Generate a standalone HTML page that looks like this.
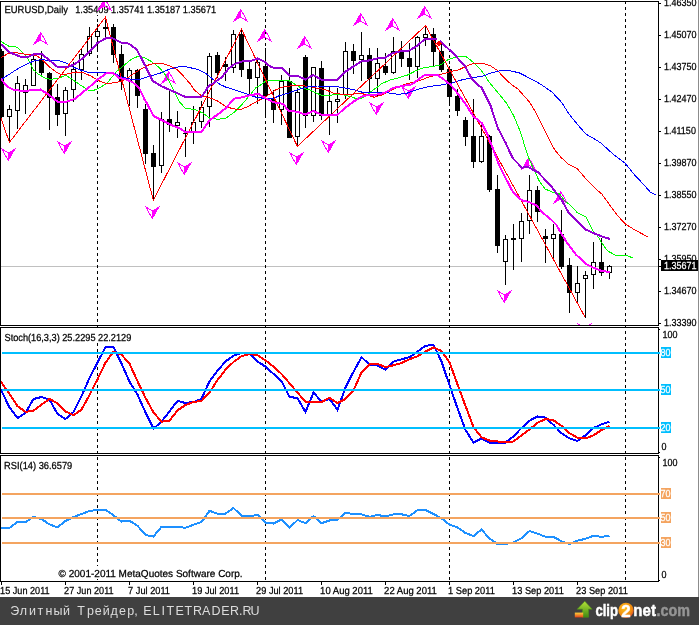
<!DOCTYPE html>
<html><head><meta charset="utf-8"><title>EURUSD Daily</title>
<style>
html,body{margin:0;padding:0;background:#fff;}
body{width:699px;height:625px;position:relative;overflow:hidden;font-family:"Liberation Sans",sans-serif;}
</style></head><body>
<svg width="699" height="625" viewBox="0 0 699 625" shape-rendering="crispEdges" style="position:absolute;left:0;top:0">
<rect x="0" y="0" width="699" height="625" fill="#fff"/>
<defs>
<clipPath id="cm"><rect x="1" y="2" width="657" height="323"/></clipPath>
<clipPath id="cs"><rect x="1" y="328" width="657" height="125"/></clipPath>
<clipPath id="cr"><rect x="1" y="456" width="657" height="125"/></clipPath>
</defs>
<rect x="1" y="266" width="657" height="1" fill="#c0c0c0"/>
<line x1="97.5" y1="1" x2="97.5" y2="581" stroke="#000" stroke-width="1" stroke-dasharray="3,3"/>
<line x1="265.5" y1="1" x2="265.5" y2="581" stroke="#000" stroke-width="1" stroke-dasharray="3,3"/>
<line x1="449.5" y1="1" x2="449.5" y2="581" stroke="#000" stroke-width="1" stroke-dasharray="3,3"/>
<line x1="625.5" y1="1" x2="625.5" y2="581" stroke="#000" stroke-width="1" stroke-dasharray="3,3"/>
<rect x="4" y="2" width="212" height="13" fill="#fff"/>
<rect x="4" y="330" width="127" height="13" fill="#fff"/>
<rect x="58" y="566" width="184" height="13" fill="#fff"/>
<g clip-path="url(#cm)">
<rect x="1" y="49" width="1" height="70" fill="#000"/>
<rect x="-1" y="51" width="5" height="66" fill="#000"/>
<rect x="9" y="105" width="1" height="37" fill="#000"/>
<rect x="7" y="109" width="5" height="8" fill="#000"/>
<rect x="8" y="110" width="3" height="6" fill="#fff"/>
<rect x="17" y="76" width="1" height="53" fill="#000"/>
<rect x="15" y="83" width="5" height="28" fill="#000"/>
<rect x="16" y="84" width="3" height="26" fill="#fff"/>
<rect x="25" y="79" width="1" height="35" fill="#000"/>
<rect x="23" y="85" width="5" height="8" fill="#000"/>
<rect x="24" y="86" width="3" height="6" fill="#fff"/>
<rect x="33" y="56" width="1" height="30" fill="#000"/>
<rect x="31" y="59" width="5" height="27" fill="#000"/>
<rect x="32" y="60" width="3" height="25" fill="#fff"/>
<rect x="41" y="51" width="1" height="25" fill="#000"/>
<rect x="39" y="59" width="5" height="14" fill="#000"/>
<rect x="49" y="72" width="1" height="58" fill="#000"/>
<rect x="47" y="73" width="5" height="25" fill="#000"/>
<rect x="57" y="84" width="1" height="42" fill="#000"/>
<rect x="55" y="97" width="5" height="18" fill="#000"/>
<rect x="65" y="87" width="1" height="49" fill="#000"/>
<rect x="63" y="90" width="5" height="24" fill="#000"/>
<rect x="64" y="91" width="3" height="22" fill="#fff"/>
<rect x="73" y="62" width="1" height="40" fill="#000"/>
<rect x="71" y="69" width="5" height="21" fill="#000"/>
<rect x="72" y="70" width="3" height="19" fill="#fff"/>
<rect x="81" y="49" width="1" height="31" fill="#000"/>
<rect x="79" y="54" width="5" height="16" fill="#000"/>
<rect x="80" y="55" width="3" height="14" fill="#fff"/>
<rect x="89" y="27" width="1" height="29" fill="#000"/>
<rect x="87" y="36" width="5" height="18" fill="#000"/>
<rect x="88" y="37" width="3" height="16" fill="#fff"/>
<rect x="97" y="24" width="1" height="28" fill="#000"/>
<rect x="95" y="31" width="5" height="6" fill="#000"/>
<rect x="96" y="32" width="3" height="4" fill="#fff"/>
<rect x="105" y="17" width="1" height="21" fill="#000"/>
<rect x="103" y="27" width="5" height="2" fill="#000"/>
<rect x="113" y="24" width="1" height="39" fill="#000"/>
<rect x="111" y="27" width="5" height="28" fill="#000"/>
<rect x="121" y="45" width="1" height="45" fill="#000"/>
<rect x="119" y="54" width="5" height="27" fill="#000"/>
<rect x="129" y="68" width="1" height="38" fill="#000"/>
<rect x="127" y="70" width="5" height="11" fill="#000"/>
<rect x="128" y="71" width="3" height="9" fill="#fff"/>
<rect x="137" y="69" width="1" height="39" fill="#000"/>
<rect x="135" y="70" width="5" height="26" fill="#000"/>
<rect x="145" y="104" width="1" height="60" fill="#000"/>
<rect x="143" y="109" width="5" height="45" fill="#000"/>
<rect x="153" y="145" width="1" height="55" fill="#000"/>
<rect x="151" y="153" width="5" height="14" fill="#000"/>
<rect x="161" y="112" width="1" height="61" fill="#000"/>
<rect x="159" y="119" width="5" height="47" fill="#000"/>
<rect x="160" y="120" width="3" height="45" fill="#fff"/>
<rect x="169" y="91" width="1" height="41" fill="#000"/>
<rect x="167" y="119" width="5" height="6" fill="#000"/>
<rect x="177" y="111" width="1" height="27" fill="#000"/>
<rect x="175" y="122" width="5" height="4" fill="#000"/>
<rect x="176" y="123" width="3" height="2" fill="#fff"/>
<rect x="185" y="127" width="1" height="30" fill="#000"/>
<rect x="183" y="133" width="5" height="1" fill="#000"/>
<rect x="193" y="106" width="1" height="38" fill="#000"/>
<rect x="191" y="122" width="5" height="11" fill="#000"/>
<rect x="192" y="123" width="3" height="9" fill="#fff"/>
<rect x="201" y="101" width="1" height="27" fill="#000"/>
<rect x="199" y="107" width="5" height="15" fill="#000"/>
<rect x="200" y="108" width="3" height="13" fill="#fff"/>
<rect x="209" y="53" width="1" height="74" fill="#000"/>
<rect x="207" y="56" width="5" height="51" fill="#000"/>
<rect x="208" y="57" width="3" height="49" fill="#fff"/>
<rect x="217" y="52" width="1" height="26" fill="#000"/>
<rect x="215" y="55" width="5" height="18" fill="#000"/>
<rect x="225" y="57" width="1" height="24" fill="#000"/>
<rect x="223" y="64" width="5" height="3" fill="#000"/>
<rect x="233" y="30" width="1" height="43" fill="#000"/>
<rect x="231" y="34" width="5" height="34" fill="#000"/>
<rect x="232" y="35" width="3" height="32" fill="#fff"/>
<rect x="241" y="29" width="1" height="48" fill="#000"/>
<rect x="239" y="34" width="5" height="36" fill="#000"/>
<rect x="249" y="62" width="1" height="32" fill="#000"/>
<rect x="247" y="69" width="5" height="10" fill="#000"/>
<rect x="257" y="60" width="1" height="44" fill="#000"/>
<rect x="255" y="62" width="5" height="16" fill="#000"/>
<rect x="256" y="63" width="3" height="14" fill="#fff"/>
<rect x="265" y="48" width="1" height="70" fill="#000"/>
<rect x="263" y="66" width="5" height="30" fill="#000"/>
<rect x="273" y="90" width="1" height="33" fill="#000"/>
<rect x="271" y="99" width="5" height="11" fill="#000"/>
<rect x="281" y="75" width="1" height="50" fill="#000"/>
<rect x="279" y="81" width="5" height="29" fill="#000"/>
<rect x="280" y="82" width="3" height="27" fill="#fff"/>
<rect x="289" y="68" width="1" height="70" fill="#000"/>
<rect x="287" y="81" width="5" height="57" fill="#000"/>
<rect x="297" y="88" width="1" height="58" fill="#000"/>
<rect x="295" y="92" width="5" height="45" fill="#000"/>
<rect x="296" y="93" width="3" height="43" fill="#fff"/>
<rect x="305" y="55" width="1" height="73" fill="#000"/>
<rect x="303" y="57" width="5" height="59" fill="#000"/>
<rect x="313" y="67" width="1" height="55" fill="#000"/>
<rect x="311" y="67" width="5" height="49" fill="#000"/>
<rect x="312" y="68" width="3" height="47" fill="#fff"/>
<rect x="321" y="61" width="1" height="59" fill="#000"/>
<rect x="319" y="68" width="5" height="48" fill="#000"/>
<rect x="329" y="86" width="1" height="49" fill="#000"/>
<rect x="327" y="101" width="5" height="15" fill="#000"/>
<rect x="328" y="102" width="3" height="13" fill="#fff"/>
<rect x="337" y="88" width="1" height="35" fill="#000"/>
<rect x="335" y="99" width="5" height="3" fill="#000"/>
<rect x="336" y="100" width="3" height="1" fill="#fff"/>
<rect x="345" y="42" width="1" height="57" fill="#000"/>
<rect x="343" y="51" width="5" height="44" fill="#000"/>
<rect x="344" y="52" width="3" height="42" fill="#fff"/>
<rect x="353" y="44" width="1" height="30" fill="#000"/>
<rect x="351" y="51" width="5" height="10" fill="#000"/>
<rect x="361" y="32" width="1" height="49" fill="#000"/>
<rect x="359" y="55" width="5" height="5" fill="#000"/>
<rect x="360" y="56" width="3" height="3" fill="#fff"/>
<rect x="369" y="48" width="1" height="44" fill="#000"/>
<rect x="367" y="55" width="5" height="24" fill="#000"/>
<rect x="377" y="48" width="1" height="49" fill="#000"/>
<rect x="375" y="63" width="5" height="16" fill="#000"/>
<rect x="376" y="64" width="3" height="14" fill="#fff"/>
<rect x="385" y="53" width="1" height="22" fill="#000"/>
<rect x="383" y="66" width="5" height="7" fill="#000"/>
<rect x="393" y="37" width="1" height="37" fill="#000"/>
<rect x="391" y="51" width="5" height="22" fill="#000"/>
<rect x="392" y="52" width="3" height="20" fill="#fff"/>
<rect x="401" y="41" width="1" height="26" fill="#000"/>
<rect x="399" y="52" width="5" height="7" fill="#000"/>
<rect x="409" y="43" width="1" height="37" fill="#000"/>
<rect x="407" y="58" width="5" height="9" fill="#000"/>
<rect x="417" y="36" width="1" height="42" fill="#000"/>
<rect x="415" y="37" width="5" height="30" fill="#000"/>
<rect x="416" y="38" width="3" height="28" fill="#fff"/>
<rect x="425" y="26" width="1" height="20" fill="#000"/>
<rect x="423" y="34" width="5" height="4" fill="#000"/>
<rect x="424" y="35" width="3" height="2" fill="#fff"/>
<rect x="433" y="28" width="1" height="38" fill="#000"/>
<rect x="431" y="34" width="5" height="18" fill="#000"/>
<rect x="441" y="44" width="1" height="28" fill="#000"/>
<rect x="439" y="51" width="5" height="19" fill="#000"/>
<rect x="449" y="66" width="1" height="40" fill="#000"/>
<rect x="447" y="69" width="5" height="28" fill="#000"/>
<rect x="457" y="89" width="1" height="27" fill="#000"/>
<rect x="455" y="96" width="5" height="15" fill="#000"/>
<rect x="465" y="117" width="1" height="29" fill="#000"/>
<rect x="463" y="120" width="5" height="17" fill="#000"/>
<rect x="473" y="99" width="1" height="69" fill="#000"/>
<rect x="471" y="136" width="5" height="26" fill="#000"/>
<rect x="481" y="125" width="1" height="38" fill="#000"/>
<rect x="479" y="136" width="5" height="26" fill="#000"/>
<rect x="480" y="137" width="3" height="24" fill="#fff"/>
<rect x="489" y="135" width="1" height="57" fill="#000"/>
<rect x="487" y="136" width="5" height="54" fill="#000"/>
<rect x="497" y="175" width="1" height="78" fill="#000"/>
<rect x="495" y="189" width="5" height="57" fill="#000"/>
<rect x="505" y="235" width="1" height="50" fill="#000"/>
<rect x="503" y="239" width="5" height="23" fill="#000"/>
<rect x="504" y="240" width="3" height="21" fill="#fff"/>
<rect x="513" y="224" width="1" height="46" fill="#000"/>
<rect x="511" y="238" width="5" height="2" fill="#000"/>
<rect x="521" y="213" width="1" height="49" fill="#000"/>
<rect x="519" y="221" width="5" height="18" fill="#000"/>
<rect x="520" y="222" width="3" height="16" fill="#fff"/>
<rect x="529" y="175" width="1" height="59" fill="#000"/>
<rect x="527" y="190" width="5" height="31" fill="#000"/>
<rect x="528" y="191" width="3" height="29" fill="#fff"/>
<rect x="537" y="186" width="1" height="36" fill="#000"/>
<rect x="535" y="190" width="5" height="22" fill="#000"/>
<rect x="545" y="229" width="1" height="34" fill="#000"/>
<rect x="543" y="236" width="5" height="3" fill="#000"/>
<rect x="553" y="224" width="1" height="37" fill="#000"/>
<rect x="551" y="234" width="5" height="5" fill="#000"/>
<rect x="552" y="235" width="3" height="3" fill="#fff"/>
<rect x="561" y="210" width="1" height="59" fill="#000"/>
<rect x="559" y="234" width="5" height="33" fill="#000"/>
<rect x="569" y="258" width="1" height="55" fill="#000"/>
<rect x="567" y="265" width="5" height="28" fill="#000"/>
<rect x="577" y="266" width="1" height="36" fill="#000"/>
<rect x="575" y="283" width="5" height="10" fill="#000"/>
<rect x="576" y="284" width="3" height="8" fill="#fff"/>
<rect x="585" y="271" width="1" height="47" fill="#000"/>
<rect x="583" y="275" width="5" height="4" fill="#000"/>
<rect x="584" y="276" width="3" height="2" fill="#fff"/>
<rect x="593" y="242" width="1" height="47" fill="#000"/>
<rect x="591" y="262" width="5" height="13" fill="#000"/>
<rect x="592" y="263" width="3" height="11" fill="#fff"/>
<rect x="601" y="238" width="1" height="38" fill="#000"/>
<rect x="599" y="262" width="5" height="11" fill="#000"/>
<rect x="609" y="265" width="1" height="14" fill="#000"/>
<rect x="607" y="266" width="5" height="7" fill="#000"/>
<rect x="608" y="267" width="3" height="5" fill="#fff"/>
<path d="M40.5 32 L33.0 45 L41.0 40.5 Z" fill="#ff00ff"/><path d="M40.5 32 L47.1 43.9 L41.0 40.5" fill="none" stroke="#ff00ff" stroke-width="1"/>
<path d="M104.5 -2 L97.0 11 L105.0 6.5 Z" fill="#ff00ff"/><path d="M104.5 -2 L111.1 9.9 L105.0 6.5" fill="none" stroke="#ff00ff" stroke-width="1"/>
<path d="M168.5 71 L161.0 84 L169.0 79.5 Z" fill="#ff00ff"/><path d="M168.5 71 L175.1 82.9 L169.0 79.5" fill="none" stroke="#ff00ff" stroke-width="1"/>
<path d="M240.5 9 L233.0 22 L241.0 17.5 Z" fill="#ff00ff"/><path d="M240.5 9 L247.1 20.9 L241.0 17.5" fill="none" stroke="#ff00ff" stroke-width="1"/>
<path d="M264.5 29 L257.0 42 L265.0 37.5 Z" fill="#ff00ff"/><path d="M264.5 29 L271.1 40.9 L265.0 37.5" fill="none" stroke="#ff00ff" stroke-width="1"/>
<path d="M304.5 36 L297.0 49 L305.0 44.5 Z" fill="#ff00ff"/><path d="M304.5 36 L311.1 47.9 L305.0 44.5" fill="none" stroke="#ff00ff" stroke-width="1"/>
<path d="M360.5 13 L353.0 26 L361.0 21.5 Z" fill="#ff00ff"/><path d="M360.5 13 L367.1 24.9 L361.0 21.5" fill="none" stroke="#ff00ff" stroke-width="1"/>
<path d="M392.5 18 L385.0 31 L393.0 26.5 Z" fill="#ff00ff"/><path d="M392.5 18 L399.1 29.9 L393.0 26.5" fill="none" stroke="#ff00ff" stroke-width="1"/>
<path d="M424.5 6 L417.0 19 L425.0 14.5 Z" fill="#ff00ff"/><path d="M424.5 6 L431.1 17.9 L425.0 14.5" fill="none" stroke="#ff00ff" stroke-width="1"/>
<path d="M528.5 157 L521.0 170 L529.0 165.5 Z" fill="#ff00ff"/><path d="M528.5 157 L535.1 168.9 L529.0 165.5" fill="none" stroke="#ff00ff" stroke-width="1"/>
<path d="M560.5 191 L553.0 204 L561.0 199.5 Z" fill="#ff00ff"/><path d="M560.5 191 L567.1 202.9 L561.0 199.5" fill="none" stroke="#ff00ff" stroke-width="1"/>
<path d="M8.5 161 L16.0 148 L8.0 152.5 Z" fill="#ff00ff"/><path d="M8.5 161 L1.9 149.1 L8.0 152.5" fill="none" stroke="#ff00ff" stroke-width="1"/>
<path d="M64.5 154 L72.0 141 L64.0 145.5 Z" fill="#ff00ff"/><path d="M64.5 154 L57.9 142.1 L64.0 145.5" fill="none" stroke="#ff00ff" stroke-width="1"/>
<path d="M152.5 219 L160.0 206 L152.0 210.5 Z" fill="#ff00ff"/><path d="M152.5 219 L145.9 207.1 L152.0 210.5" fill="none" stroke="#ff00ff" stroke-width="1"/>
<path d="M184.5 175 L192.0 162 L184.0 166.5 Z" fill="#ff00ff"/><path d="M184.5 175 L177.9 163.1 L184.0 166.5" fill="none" stroke="#ff00ff" stroke-width="1"/>
<path d="M296.5 165 L304.0 152 L296.0 156.5 Z" fill="#ff00ff"/><path d="M296.5 165 L289.9 153.1 L296.0 156.5" fill="none" stroke="#ff00ff" stroke-width="1"/>
<path d="M328.5 153 L336.0 140 L328.0 144.5 Z" fill="#ff00ff"/><path d="M328.5 153 L321.9 141.1 L328.0 144.5" fill="none" stroke="#ff00ff" stroke-width="1"/>
<path d="M376.5 115 L384.0 102 L376.0 106.5 Z" fill="#ff00ff"/><path d="M376.5 115 L369.9 103.1 L376.0 106.5" fill="none" stroke="#ff00ff" stroke-width="1"/>
<path d="M408.5 99 L416.0 86 L408.0 90.5 Z" fill="#ff00ff"/><path d="M408.5 99 L401.9 87.1 L408.0 90.5" fill="none" stroke="#ff00ff" stroke-width="1"/>
<path d="M504.5 303 L512.0 290 L504.0 294.5 Z" fill="#ff00ff"/><path d="M504.5 303 L497.9 291.1 L504.0 294.5" fill="none" stroke="#ff00ff" stroke-width="1"/>
<path d="M584.5 336 L592.0 323 L584.0 327.5 Z" fill="#ff00ff"/><path d="M584.5 336 L577.9 324.1 L584.0 327.5" fill="none" stroke="#ff00ff" stroke-width="1"/>
<polyline points="1.0,41.5 9.0,46.3 13.8,46.5 17.6,47.3 25.6,55.6 27.5,58.2 30.0,63.3 33.3,69.7 38.9,74.6 46.0,78.5 50.6,79.4 59.2,78.0 65.5,75.3 71.7,78.9 80.3,85.1 89.0,90.4 94.0,90.2 100.0,87.5 107.3,82.9 116.0,72.0 124.6,64.8 131.8,59.0 138.3,56.2 143.3,57.3 150.0,60.7 154.8,64.0 160.0,68.4 165.0,74.5 169.3,81.5 175.0,93.0 179.3,101.6 185.0,108.0 194.4,109.5 203.0,113.0 210.3,118.6 219.0,119.2 226.0,118.2 234.8,111.7 242.0,104.5 249.2,95.9 256.4,87.2 260.7,85.0 266.5,80.5 280.0,80.3 288.7,80.5 294.5,84.0 301.0,88.0 309.0,89.6 316.0,93.0 323.3,95.9 332.0,95.0 342.0,94.4 350.7,96.6 356.5,98.7 362.2,98.0 368.6,93.7 373.0,90.0 377.3,87.2 381.6,83.6 390.3,80.0 399.0,77.8 407.5,75.0 416.2,70.6 423.4,67.7 432.0,66.6 440.7,64.8 447.9,59.8 455.0,57.3 460.0,56.5 465.9,56.5 473.8,62.7 480.3,69.2 484.6,75.0 489.0,82.0 497.6,92.2 506.3,103.0 513.5,115.3 520.7,132.6 526.5,152.0 529.0,158.6 533.4,168.7 539.2,181.0 545.0,189.0 553.6,192.5 559.3,193.5 565.0,201.0 570.0,204.8 577.3,212.7 586.0,217.0 588.8,222.8 593.0,231.0 597.5,235.8 601.8,243.0 607.6,250.9 616.2,255.6 626.3,255.2 632.8,258.0" fill="none" stroke="#00ff00" stroke-width="1" />
<polyline points="1.0,57.6 7.2,54.0 15.9,52.6 23.8,54.0 31.0,54.8 37.5,56.2 43.2,60.5 49.0,66.6 56.2,72.0 62.0,75.0 69.2,73.5 76.4,72.0 83.6,72.8 90.8,76.0 98.6,80.7 105.9,83.3 114.5,82.9 123.0,80.7 131.8,75.0 140.4,69.2 149.0,64.8 154.8,63.4 162.0,63.4 169.3,65.6 176.5,69.2 183.7,76.4 190.0,83.6 194.4,90.0 201.6,95.9 210.3,98.0 217.5,100.9 226.0,106.7 233.3,108.8 240.5,109.5 247.7,106.7 256.4,101.6 263.6,98.0 272.2,92.5 275.8,89.7 284.4,86.5 294.5,85.6 307.5,86.1 316.0,88.0 324.8,89.5 333.4,93.0 342.0,94.4 350.7,94.4 359.3,93.3 365.8,94.4 374.4,97.3 381.6,95.0 388.8,91.5 397.5,87.0 407.5,83.6 420.5,80.3 429.0,77.0 437.8,75.0 446.5,72.8 451.4,71.3 458.6,69.9 465.9,66.3 473.8,63.4 483.0,63.4 490.3,65.6 497.6,70.6 504.8,78.5 512.0,85.0 517.8,88.9 529.3,101.8 535.0,111.0 540.0,121.0 548.7,138.5 554.5,149.5 560.8,157.2 568.6,164.5 577.3,168.8 586.0,178.9 596.0,189.0 601.8,194.0 609.0,204.0 617.6,215.6 625.6,224.3 635.0,230.0 643.6,234.6 648.6,237.2" fill="none" stroke="#ff0000" stroke-width="1" />
<polyline points="0.0,80.5 2.9,78.5 10.0,73.8 17.3,69.1 28.2,63.3 34.6,60.8 40.0,59.9 43.2,59.9 51.9,60.5 59.2,60.7 66.0,63.0 72.7,66.9 81.3,70.3 88.0,72.2 98.6,72.7 107.3,72.3 114.5,73.5 121.7,77.0 130.3,79.0 139.0,79.5 144.2,78.0 151.9,75.6 160.0,73.2 169.3,69.3 176.5,67.2 183.0,66.3 188.6,67.4 197.3,69.2 206.0,73.5 213.0,79.3 220.3,84.5 226.0,87.2 237.6,90.8 247.7,94.4 256.4,97.3 266.5,98.7 273.7,98.4 278.6,95.9 288.7,93.0 297.4,89.8 307.5,87.0 317.6,86.0 333.4,86.0 345.0,88.0 355.0,90.0 362.2,92.2 370.0,93.0 378.7,92.7 388.8,93.0 399.0,94.4 407.5,93.0 417.6,89.4 429.0,86.5 440.7,85.0 452.2,82.9 461.5,80.0 471.6,77.8 481.7,76.4 491.8,72.8 500.4,70.6 509.0,70.6 519.2,72.8 529.3,78.0 540.0,83.8 551.6,91.7 561.7,102.5 569.0,114.0 579.0,126.3 586.2,134.2 596.3,140.0 600.6,142.9 607.8,149.3 613.3,154.4 624.8,163.0 635.0,175.3 645.0,186.0 650.0,191.8 656.5,195.4" fill="none" stroke="#0000ff" stroke-width="1" />
<polyline points="0.0,115.0 1.4,119.2 9.4,142.4 105.4,17.2 153.3,200.2 241.5,29.2 297.4,146.4 425.5,25.6 585.3,317.6" fill="none" stroke="#ff0000" stroke-width="1" />
<polyline points="0.0,44.0 1.6,45.0 9.6,52.4 21.8,57.2 27.5,57.2 34.6,54.0 41.8,54.0 57.6,67.0 67.7,67.0 75.0,64.0 83.6,57.6 92.2,49.0 97.2,43.2 105.9,38.2 111.6,37.9 121.0,42.5 128.9,43.7 136.8,49.7 144.8,64.8 152.7,81.0 162.0,86.5 173.6,91.5 185.0,96.8 201.6,97.0 209.0,85.5 213.0,83.5 221.8,77.2 229.0,68.2 234.8,64.0 242.0,61.5 250.6,61.0 257.8,58.4 263.6,61.2 270.8,67.0 274.3,67.7 282.2,67.7 289.5,75.6 297.4,75.6 305.3,79.5 313.2,75.0 321.2,79.5 337.7,79.5 345.0,72.0 353.6,66.3 361.5,61.2 368.6,60.5 377.3,58.4 385.2,57.6 393.0,53.0 401.8,51.2 409.7,50.4 417.6,45.4 424.8,39.2 437.0,39.0" fill="none" stroke="#9400d3" stroke-width="2" />
<polyline points="440.0,41.0 449.3,49.7 457.2,57.6 465.0,66.3 471.6,78.5 477.4,84.3 481.8,88.0 490.4,105.2 497.6,127.6 505.4,142.5 512.6,158.0 521.9,167.6 528.4,167.2 538.0,172.3 544.0,178.6 550.0,184.8 555.0,191.2 561.8,200.2 568.5,212.5 575.2,219.4 585.5,229.4 594.6,233.6 601.8,236.5 609.7,238.9" fill="none" stroke="#9400d3" stroke-width="2" />
<polyline points="0.0,78.0 1.4,79.5 7.2,86.7 13.0,89.5 21.6,91.0 28.8,90.5 40.3,89.5 47.6,93.9 57.6,101.8 66.3,101.8 75.0,98.8 81.3,93.6 90.0,86.5 98.0,79.3 106.5,73.2 113.5,73.2 119.2,78.0 126.0,79.4 132.7,82.3 138.5,87.1 141.3,92.4 144.2,98.7 147.6,104.5 153.4,116.0 162.0,120.3 170.7,124.7 179.3,128.2 185.8,132.2 201.6,131.9 209.5,120.3 217.5,114.6 226.0,108.0 234.0,98.7 242.0,97.3 250.6,95.0 258.5,94.0 266.5,98.7 273.7,102.3 283.0,103.8 288.7,111.0 297.4,111.7 305.3,114.6 313.2,111.0 321.2,114.6 337.7,114.6 345.0,108.0 353.6,101.6 361.5,96.6 368.6,95.0 378.7,94.4 386.0,92.2 393.0,88.0 403.0,85.8 412.0,84.3 417.6,80.0 424.8,75.0 437.8,75.0 443.6,79.3 450.8,85.0 457.3,93.0 466.0,104.5 473.0,116.0 481.8,123.2 487.6,134.8 492.0,146.3 498.8,164.4 506.0,178.8 513.2,192.5 521.9,200.4 529.0,201.9 536.3,205.5 543.5,213.4 550.7,219.2 556.5,225.0 562.2,235.0 567.2,243.0 575.9,254.5 586.0,263.9 594.6,268.2 601.8,271.0 609.7,272.0" fill="none" stroke="#ff00ff" stroke-width="2" />
<path d="M439 40 L440 42 L442 43.5 L440 45 L439 47 L438 45 L436 43.5 L438 42 Z" fill="#ff0000"/><rect x="437" y="42" width="4" height="3" fill="#ff0000"/>
</g>
<g clip-path="url(#cs)">
<polyline points="0.0,388.5 1.5,391.0 9.5,407.4 17.5,418.0 25.5,413.0 33.5,399.0 41.5,397.0 49.5,399.5 57.5,414.0 65.5,419.0 73.5,412.0 81.5,396.0 89.5,378.0 97.5,362.6 105.5,347.0 113.5,347.0 121.5,363.7 129.5,381.6 137.5,394.7 145.5,412.4 153.5,428.6 161.5,421.7 169.5,411.3 177.5,400.9 185.5,403.0 193.5,402.0 201.5,398.9 209.5,381.2 217.5,370.8 225.5,361.4 233.5,355.8 241.5,353.0 249.5,354.0 257.5,361.4 265.5,366.6 273.5,373.9 281.5,381.2 289.5,396.8 297.5,398.2 305.5,412.0 313.5,392.6 321.5,401.6 329.5,398.9 337.5,409.9 345.5,387.4 353.5,371.8 361.5,357.2 369.5,364.5 377.5,365.6 385.5,369.7 393.5,361.6 401.5,359.3 409.5,357.2 417.5,351.6 425.5,345.8 433.5,344.8 441.5,361.4 449.5,385.3 457.5,408.2 465.5,430.0 473.5,442.5 481.5,438.4 489.5,442.5 497.5,442.5 505.5,442.5 513.5,436.3 521.5,428.0 529.5,420.7 537.5,416.5 545.5,417.6 553.5,424.9 561.5,433.2 569.5,438.4 577.5,441.0 585.5,435.3 593.5,428.0 601.5,424.4 609.5,421.7" fill="none" stroke="#0000ff" stroke-width="2" />
<polyline points="0.0,381.0 1.5,382.7 9.5,393.9 17.5,406.2 25.5,411.8 33.5,410.7 41.5,404.7 49.5,398.9 57.5,403.3 65.5,411.4 73.5,415.2 81.5,409.6 89.5,395.0 97.5,379.4 105.5,362.6 113.5,351.8 121.5,354.7 129.5,363.7 137.5,381.2 145.5,397.8 153.5,412.4 161.5,421.7 169.5,420.7 177.5,410.3 185.5,405.0 193.5,402.0 201.5,401.0 209.5,392.6 217.5,380.1 225.5,369.7 233.5,362.0 241.5,356.2 249.5,354.0 257.5,355.2 265.5,360.4 273.5,366.6 281.5,373.9 289.5,383.2 297.5,392.6 305.5,402.0 313.5,402.0 321.5,402.0 329.5,397.8 337.5,403.0 345.5,398.9 353.5,390.5 361.5,372.4 369.5,364.5 377.5,363.9 385.5,367.0 393.5,365.3 401.5,363.0 409.5,359.3 417.5,356.2 425.5,351.6 433.5,347.5 441.5,351.0 449.5,362.4 457.5,384.3 465.5,406.0 473.5,427.0 481.5,437.3 489.5,440.5 497.5,441.5 505.5,441.9 513.5,441.5 521.5,435.3 529.5,429.5 537.5,422.8 545.5,419.0 553.5,420.3 561.5,425.9 569.5,433.2 577.5,437.8 585.5,438.4 593.5,435.3 601.5,430.0 609.5,425.9" fill="none" stroke="#ff0000" stroke-width="2" />
</g>
<g clip-path="url(#cr)">
<polyline points="0.0,528.0 1.5,528.0 9.5,528.0 17.5,522.0 25.5,522.0 33.5,517.0 41.5,519.0 49.5,524.4 57.5,527.3 65.5,521.0 73.5,517.0 81.5,514.0 89.5,511.0 97.5,510.0 105.5,509.6 113.5,515.3 121.5,521.6 129.5,520.8 137.5,525.7 145.5,535.0 153.5,536.5 161.5,526.8 169.5,526.8 177.5,526.8 185.5,527.8 193.5,524.7 201.5,522.0 209.5,510.8 217.5,513.7 225.5,513.7 233.5,508.0 241.5,515.7 249.5,516.4 257.5,514.9 265.5,522.6 273.5,523.6 281.5,519.5 289.5,527.8 297.5,520.0 305.5,523.2 313.5,516.0 321.5,523.2 329.5,520.5 337.5,520.0 345.5,512.6 353.5,514.3 361.5,514.3 369.5,516.8 377.5,515.0 385.5,516.4 393.5,514.3 401.5,514.3 409.5,516.0 417.5,510.1 425.5,510.1 433.5,513.9 441.5,518.4 449.5,524.7 457.5,527.4 465.5,533.0 473.5,536.1 481.5,529.5 489.5,538.6 497.5,544.0 505.5,544.0 513.5,542.4 521.5,538.2 529.5,531.0 537.5,533.6 545.5,536.8 553.5,536.8 561.5,541.3 569.5,544.0 577.5,540.7 585.5,538.8 593.5,535.7 601.5,536.8 609.5,535.7" fill="none" stroke="#1e90ff" stroke-width="2" />
</g>
<rect x="0" y="1" width="659" height="1" fill="#000"/>
<rect x="0" y="325" width="659" height="1" fill="#000"/>
<rect x="0" y="1" width="1" height="325" fill="#000"/>
<rect x="658" y="1" width="1" height="325" fill="#000"/>
<rect x="0" y="327" width="659" height="1" fill="#000"/>
<rect x="0" y="453" width="659" height="1" fill="#000"/>
<rect x="0" y="327" width="1" height="127" fill="#000"/>
<rect x="658" y="327" width="1" height="127" fill="#000"/>
<rect x="0" y="455" width="659" height="1" fill="#000"/>
<rect x="0" y="581" width="659" height="1" fill="#000"/>
<rect x="0" y="455" width="1" height="127" fill="#000"/>
<rect x="658" y="455" width="1" height="127" fill="#000"/>
<rect x="2" y="352" width="658" height="2" fill="#00bfff"/>
<rect x="2" y="389" width="658" height="2" fill="#00bfff"/>
<rect x="2" y="427" width="658" height="2" fill="#00bfff"/>
<rect x="2" y="493" width="658" height="2" fill="#f4a460"/>
<rect x="2" y="517" width="658" height="2" fill="#f4a460"/>
<rect x="2" y="542" width="658" height="2" fill="#f4a460"/>
<rect x="659" y="3" width="2" height="1" fill="#000"/>
<rect x="659" y="35" width="2" height="1" fill="#000"/>
<rect x="659" y="67" width="2" height="1" fill="#000"/>
<rect x="659" y="99" width="2" height="1" fill="#000"/>
<rect x="659" y="131" width="2" height="1" fill="#000"/>
<rect x="659" y="163" width="2" height="1" fill="#000"/>
<rect x="659" y="195" width="2" height="1" fill="#000"/>
<rect x="659" y="227" width="2" height="1" fill="#000"/>
<rect x="659" y="259" width="2" height="1" fill="#000"/>
<rect x="659" y="291" width="2" height="1" fill="#000"/>
<rect x="659" y="323" width="2" height="1" fill="#000"/>
<rect x="659" y="329" width="1" height="1" fill="#000"/>
<rect x="659" y="452" width="1" height="1" fill="#000"/>
<rect x="659" y="457" width="1" height="1" fill="#000"/>
<rect x="659" y="580" width="1" height="1" fill="#000"/>
<rect x="1" y="582" width="1" height="3" fill="#000"/>
<rect x="65" y="582" width="1" height="3" fill="#000"/>
<rect x="129" y="582" width="1" height="3" fill="#000"/>
<rect x="193" y="582" width="1" height="3" fill="#000"/>
<rect x="257" y="582" width="1" height="3" fill="#000"/>
<rect x="321" y="582" width="1" height="3" fill="#000"/>
<rect x="385" y="582" width="1" height="3" fill="#000"/>
<rect x="449" y="582" width="1" height="3" fill="#000"/>
<rect x="513" y="582" width="1" height="3" fill="#000"/>
<rect x="577" y="582" width="1" height="3" fill="#000"/>
<rect x="698" y="0" width="1" height="597" fill="#8c8c8c"/>
<rect x="661" y="260" width="37" height="11" fill="#000"/>
<rect x="659" y="266" width="2" height="1" fill="#000"/>
<rect x="661" y="347" width="10" height="11" fill="#00bfff"/>
<rect x="661" y="384" width="10" height="11" fill="#00bfff"/>
<rect x="661" y="422" width="10" height="11" fill="#00bfff"/>
<rect x="661" y="488" width="10" height="11" fill="#f4a460"/>
<rect x="661" y="512" width="10" height="11" fill="#f4a460"/>
<rect x="661" y="537" width="10" height="11" fill="#f4a460"/>
<rect x="0" y="597" width="699" height="28" fill="#404040"/>
</svg>

<svg width="130" height="28" viewBox="0 0 130 28" style="position:absolute;left:569px;top:597px">
<defs>
<linearGradient id="ga" x1="0" y1="0" x2="0" y2="1"><stop offset="0" stop-color="#b6e23a"/><stop offset="1" stop-color="#3f8a12"/></linearGradient>
<linearGradient id="gb" x1="0" y1="0" x2="0" y2="1"><stop offset="0" stop-color="#ffd23a"/><stop offset="1" stop-color="#e0401a"/></linearGradient>
<radialGradient id="gc" cx="0.4" cy="0.35" r="0.7"><stop offset="0" stop-color="#ffc21a"/><stop offset="0.7" stop-color="#f08a10"/><stop offset="1" stop-color="#d8452a"/></radialGradient>
</defs>
<path d="M15.8 4.2 L23.2 12.2 L19.6 12.2 L19.6 20.2 L13.4 20.2 L13.4 12.2 L8.2 12.2 Z" fill="url(#ga)" stroke="#4d8f1a" stroke-width="0.6"/>
<rect x="5.8" y="15.6" width="8.4" height="4.8" fill="url(#gb)"/>
<circle cx="57" cy="13.4" r="7.7" fill="url(#gc)"/>
</svg>
<svg width="699" height="625" viewBox="0 0 699 625" style="position:absolute;left:0;top:0;filter:grayscale(1)" font-family="Liberation Sans, sans-serif">
<text x="4.5" y="13.0" font-size="10.2" fill="#000" stroke="#000" stroke-width="0.25" text-rendering="geometricPrecision" textLength="63.5" lengthAdjust="spacingAndGlyphs" xml:space="preserve">EURUSD,Daily</text>
<text x="75.2" y="13.0" font-size="10.2" fill="#000" stroke="#000" stroke-width="0.25" text-rendering="geometricPrecision" textLength="141.0" lengthAdjust="spacingAndGlyphs" xml:space="preserve">1.35409 1.35741 1.35187 1.35671</text>
<text x="4.5" y="341.0" font-size="10.2" fill="#000" stroke="#000" stroke-width="0.25" text-rendering="geometricPrecision" textLength="126.8" lengthAdjust="spacingAndGlyphs" xml:space="preserve">Stoch(16,3,3) 25.2295 22.2129</text>
<text x="4.1" y="469.0" font-size="10.2" fill="#000" stroke="#000" stroke-width="0.25" text-rendering="geometricPrecision" textLength="68.2" lengthAdjust="spacingAndGlyphs" xml:space="preserve">RSI(14) 36.6579</text>
<text x="58.6" y="577.0" font-size="10.2" fill="#000" stroke="#000" stroke-width="0.25" text-rendering="geometricPrecision" textLength="184.0" lengthAdjust="spacingAndGlyphs" xml:space="preserve">© 2001-2011 MetaQuotes Software Corp.</text>
<text x="664.0" y="6.0" font-size="10.2" fill="#000" stroke="#000" stroke-width="0.25" text-rendering="geometricPrecision" textLength="32.5" lengthAdjust="spacingAndGlyphs" xml:space="preserve">1.46350</text>
<text x="664.0" y="38.0" font-size="10.2" fill="#000" stroke="#000" stroke-width="0.25" text-rendering="geometricPrecision" textLength="32.5" lengthAdjust="spacingAndGlyphs" xml:space="preserve">1.45070</text>
<text x="664.0" y="70.0" font-size="10.2" fill="#000" stroke="#000" stroke-width="0.25" text-rendering="geometricPrecision" textLength="32.5" lengthAdjust="spacingAndGlyphs" xml:space="preserve">1.43750</text>
<text x="664.0" y="102.0" font-size="10.2" fill="#000" stroke="#000" stroke-width="0.25" text-rendering="geometricPrecision" textLength="32.5" lengthAdjust="spacingAndGlyphs" xml:space="preserve">1.42470</text>
<text x="664.0" y="134.0" font-size="10.2" fill="#000" stroke="#000" stroke-width="0.25" text-rendering="geometricPrecision" textLength="31.9" lengthAdjust="spacingAndGlyphs" xml:space="preserve">1.41150</text>
<text x="664.0" y="166.0" font-size="10.2" fill="#000" stroke="#000" stroke-width="0.25" text-rendering="geometricPrecision" textLength="32.5" lengthAdjust="spacingAndGlyphs" xml:space="preserve">1.39870</text>
<text x="664.0" y="198.0" font-size="10.2" fill="#000" stroke="#000" stroke-width="0.25" text-rendering="geometricPrecision" textLength="32.5" lengthAdjust="spacingAndGlyphs" xml:space="preserve">1.38550</text>
<text x="664.0" y="230.0" font-size="10.2" fill="#000" stroke="#000" stroke-width="0.25" text-rendering="geometricPrecision" textLength="32.5" lengthAdjust="spacingAndGlyphs" xml:space="preserve">1.37270</text>
<text x="664.0" y="262.0" font-size="10.2" fill="#000" stroke="#000" stroke-width="0.25" text-rendering="geometricPrecision" textLength="32.5" lengthAdjust="spacingAndGlyphs" xml:space="preserve">1.35950</text>
<text x="664.0" y="294.0" font-size="10.2" fill="#000" stroke="#000" stroke-width="0.25" text-rendering="geometricPrecision" textLength="32.5" lengthAdjust="spacingAndGlyphs" xml:space="preserve">1.34670</text>
<text x="664.0" y="326.0" font-size="10.2" fill="#000" stroke="#000" stroke-width="0.25" text-rendering="geometricPrecision" textLength="32.5" lengthAdjust="spacingAndGlyphs" xml:space="preserve">1.33390</text>
<text x="664.0" y="269.0" font-size="10.2" fill="#fff" stroke="#fff" stroke-width="0.25" text-rendering="geometricPrecision" textLength="32.5" lengthAdjust="spacingAndGlyphs" xml:space="preserve">1.35671</text>
<text x="662.5" y="338.0" font-size="10.2" fill="#000" stroke="#000" stroke-width="0.25" text-rendering="geometricPrecision" textLength="15.0" lengthAdjust="spacingAndGlyphs" xml:space="preserve">100</text>
<text x="661.5" y="450.0" font-size="10.2" fill="#000" stroke="#000" stroke-width="0.25" text-rendering="geometricPrecision" textLength="5.0" lengthAdjust="spacingAndGlyphs" xml:space="preserve">0</text>
<text x="660.6" y="356.0" font-size="10.2" fill="#fff" stroke="#fff" stroke-width="0.25" text-rendering="geometricPrecision" textLength="10.0" lengthAdjust="spacingAndGlyphs" xml:space="preserve">80</text>
<text x="660.6" y="393.0" font-size="10.2" fill="#fff" stroke="#fff" stroke-width="0.25" text-rendering="geometricPrecision" textLength="10.0" lengthAdjust="spacingAndGlyphs" xml:space="preserve">50</text>
<text x="660.6" y="431.0" font-size="10.2" fill="#fff" stroke="#fff" stroke-width="0.25" text-rendering="geometricPrecision" textLength="10.0" lengthAdjust="spacingAndGlyphs" xml:space="preserve">20</text>
<text x="662.5" y="466.0" font-size="10.2" fill="#000" stroke="#000" stroke-width="0.25" text-rendering="geometricPrecision" textLength="15.0" lengthAdjust="spacingAndGlyphs" xml:space="preserve">100</text>
<text x="661.5" y="578.0" font-size="10.2" fill="#000" stroke="#000" stroke-width="0.25" text-rendering="geometricPrecision" textLength="5.0" lengthAdjust="spacingAndGlyphs" xml:space="preserve">0</text>
<text x="660.6" y="497.0" font-size="10.2" fill="#fff" stroke="#fff" stroke-width="0.25" text-rendering="geometricPrecision" textLength="10.0" lengthAdjust="spacingAndGlyphs" xml:space="preserve">70</text>
<text x="660.6" y="521.0" font-size="10.2" fill="#fff" stroke="#fff" stroke-width="0.25" text-rendering="geometricPrecision" textLength="10.0" lengthAdjust="spacingAndGlyphs" xml:space="preserve">50</text>
<text x="660.6" y="546.0" font-size="10.2" fill="#fff" stroke="#fff" stroke-width="0.25" text-rendering="geometricPrecision" textLength="10.0" lengthAdjust="spacingAndGlyphs" xml:space="preserve">30</text>
<text x="0.1" y="594.0" font-size="10.2" fill="#000" stroke="#000" stroke-width="0.25" text-rendering="geometricPrecision" textLength="49.5" lengthAdjust="spacingAndGlyphs" xml:space="preserve">15 Jun 2011</text>
<text x="64.1" y="594.0" font-size="10.2" fill="#000" stroke="#000" stroke-width="0.25" text-rendering="geometricPrecision" textLength="49.5" lengthAdjust="spacingAndGlyphs" xml:space="preserve">27 Jun 2011</text>
<text x="128.1" y="594.0" font-size="10.2" fill="#000" stroke="#000" stroke-width="0.25" text-rendering="geometricPrecision" textLength="41.9" lengthAdjust="spacingAndGlyphs" xml:space="preserve">7 Jul 2011</text>
<text x="192.1" y="594.0" font-size="10.2" fill="#000" stroke="#000" stroke-width="0.25" text-rendering="geometricPrecision" textLength="46.9" lengthAdjust="spacingAndGlyphs" xml:space="preserve">19 Jul 2011</text>
<text x="256.1" y="594.0" font-size="10.2" fill="#000" stroke="#000" stroke-width="0.25" text-rendering="geometricPrecision" textLength="46.9" lengthAdjust="spacingAndGlyphs" xml:space="preserve">29 Jul 2011</text>
<text x="320.1" y="594.0" font-size="10.2" fill="#000" stroke="#000" stroke-width="0.25" text-rendering="geometricPrecision" textLength="52.7" lengthAdjust="spacingAndGlyphs" xml:space="preserve">10 Aug 2011</text>
<text x="384.1" y="594.0" font-size="10.2" fill="#000" stroke="#000" stroke-width="0.25" text-rendering="geometricPrecision" textLength="52.7" lengthAdjust="spacingAndGlyphs" xml:space="preserve">22 Aug 2011</text>
<text x="448.1" y="594.0" font-size="10.2" fill="#000" stroke="#000" stroke-width="0.25" text-rendering="geometricPrecision" textLength="46.7" lengthAdjust="spacingAndGlyphs" xml:space="preserve">1 Sep 2011</text>
<text x="512.1" y="594.0" font-size="10.2" fill="#000" stroke="#000" stroke-width="0.25" text-rendering="geometricPrecision" textLength="51.7" lengthAdjust="spacingAndGlyphs" xml:space="preserve">13 Sep 2011</text>
<text x="576.1" y="594.0" font-size="10.2" fill="#000" stroke="#000" stroke-width="0.25" text-rendering="geometricPrecision" textLength="51.7" lengthAdjust="spacingAndGlyphs" xml:space="preserve">23 Sep 2011</text>
<text x="595.4" y="616.0" font-size="17.0" fill="#fff" font-weight="bold" stroke="#fff" stroke-width="0.5" textLength="22.6" lengthAdjust="spacingAndGlyphs" xml:space="preserve">clip</text>
<text x="621.3" y="616.6" font-size="17.0" fill="#fff" font-weight="bold" stroke="#fff" stroke-width="0.5" textLength="9.4" lengthAdjust="spacingAndGlyphs" xml:space="preserve">2</text>
<text x="633.3" y="616.0" font-size="17.0" fill="#fff" font-weight="bold" stroke="#fff" stroke-width="0.5" textLength="22.6" lengthAdjust="spacingAndGlyphs" xml:space="preserve">net</text>
<text x="656.6" y="616.0" font-size="17.0" fill="#8f9696" font-weight="bold" stroke="#8f9696" stroke-width="0.5" textLength="33.4" lengthAdjust="spacingAndGlyphs" xml:space="preserve">.com</text>
<text x="10.2 19.7 29.0 37.6 45.5 53.5 63.1 70.5 77.2 87.0 94.8 102.8 110.4 119.1 127.3 134.3 138.5 143.3 152.7 161.4 166.5 175.4 184.5 192.9 202.0 211.4 221.3 230.1 238.9 242.4 250.6" y="615" font-size="12.5" fill="#dcdcdc" xml:space="preserve">Элитный Трейдер, ELITETRADER.RU</text>
</svg>
<svg width="699" height="625" viewBox="0 0 699 625" shape-rendering="crispEdges" style="position:absolute;left:0;top:0"><defs><clipPath id="cm2"><rect x="1" y="2" width="657" height="323"/></clipPath></defs><g clip-path="url(#cm2)"><path d="M104.5 -2 L97.0 11 L105.0 6.5 Z" fill="#ff00ff"/><path d="M104.5 -2 L111.1 9.9 L105.0 6.5" fill="none" stroke="#ff00ff" stroke-width="1"/></g></svg>
</body></html>
